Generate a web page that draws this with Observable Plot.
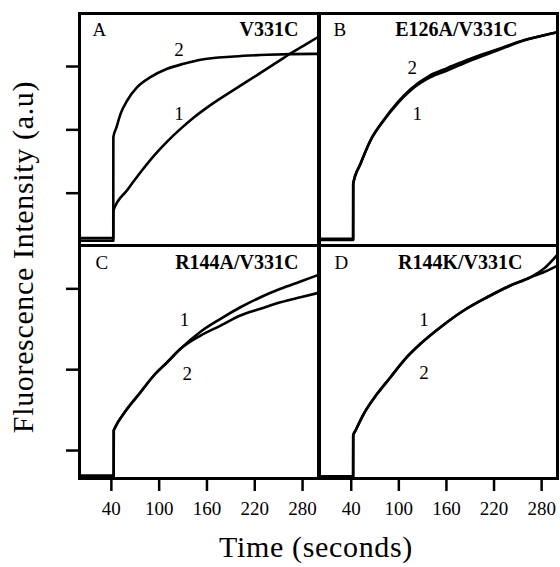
<!DOCTYPE html>
<html>
<head>
<meta charset="utf-8">
<script src="https://cdn.jsdelivr.net/npm/d3@7"></script>
<script src="https://cdn.jsdelivr.net/npm/@observablehq/plot@0.6"></script>
<style>
  html, body { margin: 0; padding: 0; background: white; }
  #chart { position: relative; width: 560px; height: 567px; background: white; font-family: "Liberation Serif", serif; color: black; }
  .axlabel { position: absolute; font-size: 30px; line-height: 30px; white-space: nowrap; letter-spacing: 0.65px; }
</style>
</head>
<body>
<div id="chart"></div>
<script>
// ---- data (time in seconds, fluorescence in arbitrary units) ----
const xTicks = [40, 100, 160, 220, 280];
const yTicks = [1, 2, 3];
const panelLetters = ["A", "B", "C", "D"];
const panelTitles = ["V331C", "E126A/V331C", "R144A/V331C", "R144K/V331C"];

const A_curve1 = [[0,0.25],[42.4,0.25],[42.5,0.727],[60,1.05],[76.6,1.33],[93.3,1.59],[110,1.815],[126.8,2.015],[143.5,2.195],[164.4,2.39],[193.7,2.63],[223,2.865],[248.1,3.068],[262.7,3.19],[281.5,3.33],[300,3.47]];
const A_curve2 = [[0,0.29],[42.4,0.29],[42.5,1.884],[46.4,2.04],[51.5,2.253],[59.9,2.463],[72.4,2.673],[89.1,2.831],[110,2.964],[130.9,3.043],[151.9,3.106],[193.7,3.158],[235.6,3.185],[294,3.2],[300,3.2]];

const B_curve1 = [[0,0.26],[42.4,0.26],[42.5,1.15],[51.7,1.464],[64.3,1.832],[81,2.148],[97.9,2.411],[114.7,2.621],[139.9,2.831],[160.9,2.937],[190.3,3.095],[223.9,3.253],[257.4,3.41],[291,3.516],[300,3.54]];
const B_curve2 = [[0,0.28],[42.4,0.28],[42.5,1.15],[51.7,1.464],[64.3,1.835],[81,2.155],[97.9,2.425],[114.7,2.64],[139.9,2.865],[160.9,2.975],[190.3,3.125],[223.9,3.27],[257.4,3.415],[291,3.516],[300,3.54]];

const C_curve1 = [[0,0.69],[42.9,0.69],[43,1.247],[43.9,1.268],[59.9,1.516],[76.6,1.721],[93.3,1.928],[110.1,2.092],[126.7,2.258],[151.9,2.47],[177,2.629],[202,2.772],[227.2,2.896],[252.3,3.0],[277.4,3.09],[300,3.173]];
const C_curve2 = [[0,0.665],[42.9,0.665],[43,1.247],[43.9,1.268],[59.9,1.516],[76.6,1.721],[93.3,1.928],[110.1,2.092],[126.7,2.258],[151.9,2.422],[177,2.546],[202,2.67],[227.2,2.753],[252.3,2.834],[277.4,2.896],[300,2.95]];

const D_curve1 = [[0,0.68],[42.4,0.68],[42.5,1.186],[45.4,1.247],[55.8,1.454],[72.7,1.701],[89.5,1.907],[106.2,2.113],[127.3,2.32],[152.5,2.525],[181.8,2.732],[211.3,2.896],[240.7,3.041],[265.9,3.143],[282.6,3.247],[300,3.424]];
const D_curve2 = [[0,0.66],[42.4,0.66],[42.5,1.186],[45.4,1.247],[55.8,1.454],[72.7,1.701],[89.5,1.907],[106.2,2.113],[127.3,2.32],[152.5,2.525],[181.8,2.732],[211.3,2.896],[240.7,3.041],[265.9,3.143],[282.6,3.205],[300,3.288]];

// curve number labels: [curve, time, intensity]
const A_labels = [["2",125,3.27],["1",125,2.258]];
const B_labels = [["2",116.8,2.984],["1",123.1,2.253]];
const C_labels = [["1",131.8,2.612],["2",135.2,1.949]];
const D_labels = [["1",131.6,2.62],["2",131.6,1.956]];

// ---- layout ----
const W = 560, H = 567;
const font = "Liberation Serif";
const layout = [
  {left: 79,  right: 318, top: 13,  bottom: 245, yDomain: [0.174, 3.837], axisX: false, axisY: true,  letterDx: 13, titleDx: 219, textDy: 22},
  {left: 319, right: 557, top: 13,  bottom: 245, yDomain: [0.174, 3.837], axisX: false, axisY: false, letterDx: 14, titleDx: 198, textDy: 22},
  {left: 79,  right: 318, top: 245, bottom: 478, yDomain: [0.654, 3.536], axisX: true,  axisY: true,  letterDx: 16, titleDx: 219, textDy: 23},
  {left: 319, right: 557, top: 245, bottom: 478, yDomain: [0.654, 3.536], axisX: true,  axisY: false, letterDx: 15, titleDx: 203, textDy: 23}
];
const curveSets = [[A_curve1, A_curve2], [B_curve1, B_curve2], [C_curve1, C_curve2], [D_curve1, D_curve2]];
const labelSets = [A_labels, B_labels, C_labels, D_labels];

const chart = document.getElementById("chart");

layout.forEach((L, i) => {
  const lines = curveSets[i].flatMap((c, k) => c.map(([t, v]) => ({t, v, curve: String(k + 1)})));
  const labels = labelSets[i].map(([label, t, v]) => ({label, t, v}));
  const marks = [
    Plot.line(lines, {x: "t", y: "v", z: "curve", stroke: "black", strokeWidth: 2.6, curve: "monotone-x"}),
    Plot.text(labels, {x: "t", y: "v", text: "label", fontSize: 19, fill: "black"}),
    Plot.text([panelLetters[i]], {text: d => d, frameAnchor: "top-left", textAnchor: "start", lineAnchor: "bottom", dx: L.letterDx, dy: L.textDy, fontSize: 19, fill: "black"}),
    Plot.text([panelTitles[i]], {text: d => d, frameAnchor: "top-left", textAnchor: "end", lineAnchor: "bottom", dx: L.titleDx, dy: L.textDy, fontSize: 20, fontWeight: "bold", fill: "black"}),
    Plot.frame({stroke: "black", strokeWidth: 3})
  ];
  if (L.axisY) marks.push(Plot.axisY(yTicks, {anchor: "left", tickSize: 13, strokeWidth: 2.5, tickFormat: () => "", label: null}));
  if (L.axisX) marks.push(Plot.axisX(xTicks, {anchor: "bottom", tickSize: 13, strokeWidth: 2.5, tickPadding: 10, fontSize: 19, label: null}));
  const svg = Plot.plot({
    width: W, height: H,
    marginLeft: L.left, marginRight: W - L.right, marginTop: L.top, marginBottom: H - L.bottom,
    x: {domain: [0, 300], axis: L.axisX ? undefined : null},
    y: {domain: L.yDomain, axis: L.axisY ? undefined : null},
    style: {position: "absolute", left: "0px", top: "0px", background: "transparent", overflow: "visible", fontFamily: font, color: "black"},
    marks
  });
  svg.style.position = "absolute";
  svg.style.left = "0px";
  svg.style.top = "0px";
  chart.appendChild(svg);
});

const xl = document.createElement("div");
xl.className = "axlabel";
xl.textContent = "Time (seconds)";
xl.style.left = "316px"; xl.style.top = "532px"; xl.style.transform = "translateX(-50%)";
chart.appendChild(xl);

const yl = document.createElement("div");
yl.className = "axlabel";
yl.textContent = "Fluorescence Intensity (a.u)";
yl.style.left = "23px"; yl.style.top = "257px"; yl.style.transform = "translate(-50%,-50%) rotate(-90deg)";
chart.appendChild(yl);
</script>
</body>
</html>
